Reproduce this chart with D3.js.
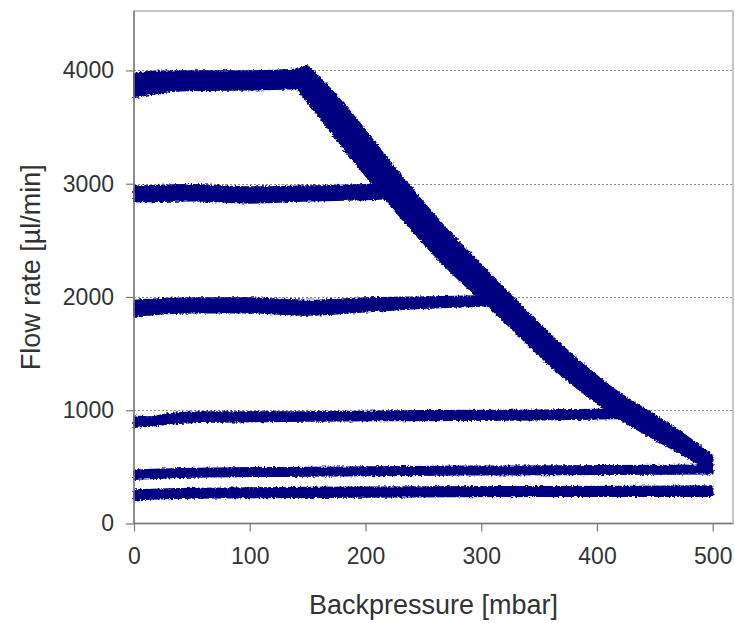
<!DOCTYPE html>
<html>
<head>
<meta charset="utf-8">
<script src="https://cdn.jsdelivr.net/npm/d3@7"></script>
<style>
	body { margin: 0; background: #ffffff; }
	text { font-family: "Liberation Sans", Arial, sans-serif; fill: #333333; }
</style>
</head>
<body>
<svg id="chart" width="735" height="623"></svg>
<script>
// tick values
var pressureTicks = [0, 100, 200, 300, 400, 500];
var flowTicks = [0, 1000, 2000, 3000, 4000];
var gridFlows = [1000, 2000, 3000, 4000];

// each band: [backpressure mbar, lower flow, upper flow]
var band4000 = [[0, 3760, 3970], [15, 3790, 3990], [40, 3820, 3995], [100, 3830, 3995], [141, 3840, 4010], [150, 3860, 4040]];
var band3000 = [[0, 2840, 2975], [50, 2850, 2990], [100, 2830, 2970], [150, 2850, 2980], [200, 2860, 2990], [225, 2870, 3000]];
var band2000 = [[0, 1830, 1970], [50, 1860, 1990], [100, 1860, 1990], [150, 1840, 1970], [200, 1870, 1990], [250, 1900, 2000], [300, 1920, 2010], [320, 1930, 2020]];
var band1000 = [[0, 850, 950], [15, 860, 940], [30, 880, 970], [60, 895, 985], [150, 905, 985], [250, 910, 995], [350, 915, 1000], [430, 930, 1010]];
var band500 = [[0, 390, 470], [50, 410, 485], [150, 420, 495], [300, 430, 505], [500, 440, 515]];
var band250 = [[0, 210, 295], [50, 225, 310], [200, 235, 320], [350, 240, 325], [500, 240, 330]];
// pressure-limited part that all runs fall onto
var limitBand = [[141, 3840, 4020], [150, 3720, 4030], [160, 3590, 3940], [185, 3260, 3660], [223, 2790, 3170], [265, 2310, 2660], [313, 1850, 2150], [370, 1300, 1570], [420, 920, 1150], [445, 770, 990], [475, 600, 790], [500, 450, 600]];

var bands = [band4000, band3000, band2000, band1000, band500, band250, limitBand];

var svg = d3.select("#chart");

var x = d3.scaleLinear().domain([0, 517.5]).range([134, 733]);
var y = d3.scaleLinear().domain([0, 4525]).range([523.5, 11]);

// rough edges like the scattered measurement points
var defs = svg.append("defs");
var filter = defs.append("filter")
	.attr("id", "rough")
	.attr("filterUnits", "userSpaceOnUse")
	.attr("x", 0).attr("y", 0)
	.attr("width", 735).attr("height", 623);
filter.append("feTurbulence")
	.attr("type", "fractalNoise")
	.attr("baseFrequency", 0.45)
	.attr("numOctaves", 2)
	.attr("seed", 4)
	.attr("result", "noise");
filter.append("feDisplacementMap")
	.attr("in", "SourceGraphic")
	.attr("in2", "noise")
	.attr("scale", 4)
	.attr("xChannelSelector", "R")
	.attr("yChannelSelector", "G");

// plot frame
svg.append("rect")
	.attr("x", x(0))
	.attr("y", y(4525))
	.attr("width", x(517.5) - x(0))
	.attr("height", y(0) - y(4525))
	.attr("fill", "none")
	.attr("stroke", "#b4b4b4")
	.attr("stroke-width", 1.5);

// dotted gridlines
svg.append("g").selectAll("line")
	.data(gridFlows)
	.enter().append("line")
	.attr("x1", x(0))
	.attr("x2", x(517.5))
	.attr("y1", function(d){ return Math.round(y(d)) + 0.5; })
	.attr("y2", function(d){ return Math.round(y(d)) + 0.5; })
	.attr("stroke", "#8c8c8c")
	.attr("stroke-width", 1)
	.attr("stroke-dasharray", "2,2");

var area = d3.area()
	.x(function(d){ return x(d[0]); })
	.y0(function(d){ return y(d[1]); })
	.y1(function(d){ return y(d[2]); })
	.curve(d3.curveMonotoneX);

svg.append("g")
	.attr("filter", "url(#rough)")
	.selectAll("path")
	.data(bands)
	.enter().append("path")
	.attr("d", area)
	.attr("fill", "#000080")
	.attr("stroke", "#000080")
	.attr("stroke-width", 1.5)
	.attr("stroke-linejoin", "round");

// axes
var fmt = d3.format("d");
var xAxis = svg.append("g")
	.attr("transform", "translate(0," + y(0) + ")")
	.call(d3.axisBottom(x).tickValues(pressureTicks).tickFormat(fmt).tickSize(8).tickPadding(16).tickSizeOuter(0));
var yAxis = svg.append("g")
	.attr("transform", "translate(" + x(0) + ",0)")
	.call(d3.axisLeft(y).tickValues(flowTicks).tickFormat(fmt).tickSize(8).tickPadding(12).tickSizeOuter(0));

xAxis.select(".domain").attr("d", "M" + x(0) + ",0H" + x(517.5));
yAxis.select(".domain").attr("d", "M0," + y(4525) + "V" + y(0));

svg.selectAll(".domain").attr("stroke", "#7a7a7a").attr("stroke-width", 1.5);
svg.selectAll(".tick line").attr("stroke", "#7a7a7a").attr("stroke-width", 1.2);
svg.selectAll(".tick text")
	.attr("font-size", 23)
	.attr("font-family", "Liberation Sans, Arial, sans-serif")
	.attr("fill", "#333333");

// axis titles
svg.append("text")
	.attr("x", (x(0) + x(517.5)) / 2)
	.attr("y", 614)
	.attr("text-anchor", "middle")
	.attr("font-size", 27)
	.text("Backpressure [mbar]");

svg.append("text")
	.attr("transform", "translate(40," + ((y(0) + y(4525)) / 2) + ") rotate(-90)")
	.attr("text-anchor", "middle")
	.attr("font-size", 27)
	.text("Flow rate [µl/min]");
</script>
</body>
</html>
